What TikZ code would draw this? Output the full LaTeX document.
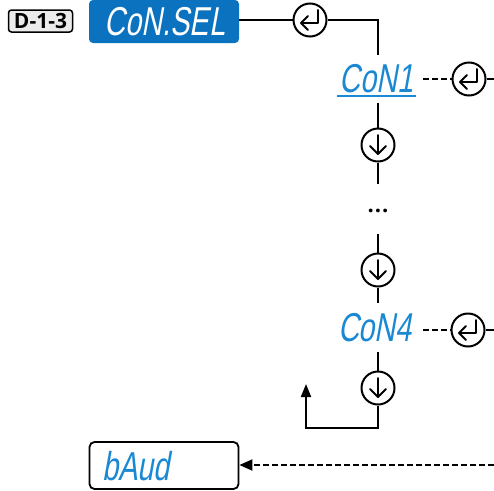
\documentclass[tikz,border=0pt]{standalone}
\usepackage{fontspec}
\setmainfont{Open Sans}
\newfontfamily\segfont{Liberation Sans}[FakeSlant=0.2,FakeStretch=0.8]
\usetikzlibrary{arrows.meta}
\definecolor{dispblue}{HTML}{0B72C0}
\definecolor{segblue}{HTML}{1A88D2}
\newcommand\segtxt[1]{\scalebox{1}[1.12]{#1}}
\tikzset{
  conn/.style={line width=2pt},
  dconn/.style={line width=2pt, dash pattern=on 6pt off 3pt},
  keycirc/.style={circle, draw, line width=2pt, minimum size=33pt, inner sep=0pt},
  segtext/.style={font=\segfont\fontsize{36}{36}\selectfont, inner sep=0pt, anchor=center},
  tagfont/.style={font=\bfseries\fontsize{21}{21}\selectfont},
  keysym/.style={line width=2pt, line join=round, line cap=round},
}
\begin{document}
\begin{tikzpicture}[x=1pt,y=-1pt]
\useasboundingbox (0,0) rectangle (494,490);
% labels
\node[draw, rounded corners=3pt, fill=black!8, line width=1.5pt, minimum width=64pt, minimum height=22pt, inner sep=0pt, tagfont] (tag) at (40.5,21) {D-1-3};
\node[fill=dispblue, rounded corners=4pt, minimum width=150pt, minimum height=43pt, inner sep=0pt] (sel) at (164,21.5) {};
\node[segtext, text=white] (seltxt) at (165,22) {\segtxt{CoN.SEL}};
% enter key on top
\node[keycirc] (k0) at (310,20) {};
\coordinate (c0) at (378,20);
\coordinate (c0b) at (378,55);
\draw[conn] (sel.east |- k0) -- (k0.west);
\draw[conn] (k0.east) -- (c0) -- (c0b);
% Con1
\node[segtext, text=segblue] (con1) at (376.5,79) {\segtxt{CoN1}};
\draw[segblue, line width=1.5pt] (337,96) -- (416,96);
\node[keycirc] (k1) at (469,79) {};
\coordinate (e1) at (494,79);
\draw[dconn] (423,79) -- (k1.west);
\draw[conn] (k1.east) -- (e1);
% down keys
\node[keycirc] (d1) at (378,145) {};
\node[font=\bfseries\fontsize{22}{22}\selectfont, inner sep=0pt] (dots) at (378,211) {.\kern1pt.\kern1pt.};
\node[keycirc] (d2) at (378,270) {};
\coordinate (a1) at (378,103);
\coordinate (a2) at (378,184);
\coordinate (a3) at (378,234);
\coordinate (a4) at (378,303);
\draw[conn] (a1) -- (d1.north);
\draw[conn] (d1.south) -- (a2);
\draw[conn] (a3) -- (d2.north);
\draw[conn] (d2.south) -- (a4);
% Con4
\node[segtext, text=segblue] (con4) at (375,328) {\segtxt{CoN4}};
\node[keycirc] (k4) at (468,330) {};
\coordinate (e4) at (494,330);
\draw[dconn] (423,330) -- (k4.west);
\draw[conn] (k4.east) -- (e4);
\node[keycirc] (d3) at (378,388) {};
\coordinate (b1) at (378,352);
\coordinate (b2) at (378,428);
\coordinate (b3) at (306,428);
\coordinate (b4) at (306,384);
\draw[conn] (b1) -- (d3.north);
\draw[conn, -{Triangle[length=13pt,width=10pt]}] (d3.south) -- (b2) -- (b3) -- (b4);
% bAud
\node[draw, rounded corners=5pt, line width=1.8pt, minimum width=149pt, minimum height=47pt, inner sep=0pt] (baud) at (164,465.5) {};
\node[segtext, text=segblue] (baudtxt) at (136,466) {\segtxt{bAud}};
\coordinate (e5) at (494,465);
\draw[dconn, -{Triangle[length=13pt,width=11pt]}] (e5) -- (baud.east |- e5);
% key symbols
\foreach \k in {k0,k1,k4}{
  \draw[keysym] ([shift={(8,-10)}]\k.center) -- ([shift={(8,3)}]\k.center) -- ([shift={(-9,3)}]\k.center);
  \draw[keysym] ([shift={(-2,-4)}]\k.center) -- ([shift={(-9,3)}]\k.center) -- ([shift={(-2,10)}]\k.center);
}
\foreach \k in {d1,d2,d3}{
  \draw[keysym] ([shift={(0,-10)}]\k.center) -- ([shift={(0,9)}]\k.center);
  \draw[keysym] ([shift={(-8,1)}]\k.center) -- ([shift={(0,9)}]\k.center) -- ([shift={(8,1)}]\k.center);
}
\end{tikzpicture}
\end{document}
